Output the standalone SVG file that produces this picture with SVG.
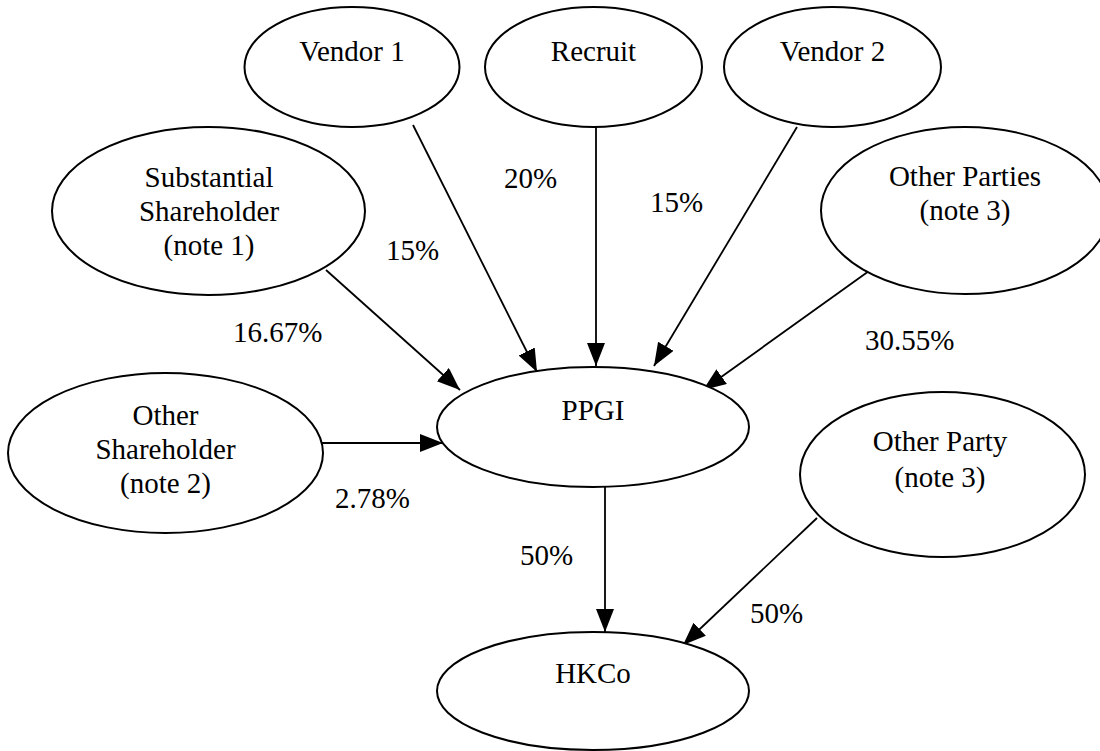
<svg xmlns="http://www.w3.org/2000/svg" width="1100" height="751" viewBox="0 0 1100 751">
<defs>
<marker id="arr" markerUnits="userSpaceOnUse" markerWidth="24" markerHeight="20" refX="23" refY="9" orient="auto">
<path d="M0,0 L23,9 L0,18 z" fill="#000"/>
</marker>
<style>
ellipse{fill:#fff;stroke:#000;stroke-width:2}
text{font-family:"Liberation Serif","Times New Roman",serif;font-size:29px;fill:#000}
.c{text-anchor:middle}
.e{stroke:#000;stroke-width:1.8;fill:none;marker-end:url(#arr)}
</style>
</defs>
<rect width="1100" height="751" fill="#fff"/>
<g id="connectors">
<line class="e" x1="413" y1="125" x2="537" y2="372"/>
<line class="e" x1="596" y1="127" x2="596" y2="366"/>
<line class="e" x1="797" y1="127" x2="654" y2="366"/>
<line class="e" x1="326" y1="270" x2="460" y2="390"/>
<line class="e" x1="869" y1="271" x2="703" y2="390"/>
<line class="e" x1="317" y1="443" x2="443" y2="443"/>
<line class="e" x1="605" y1="487" x2="605" y2="632"/>
<line class="e" x1="817" y1="518" x2="683" y2="645"/>
</g>
<g id="vendor1"><ellipse cx="352" cy="67" rx="107.5" ry="60"/><text class="c" x="352" y="61">Vendor 1</text></g>
<g id="recruit"><ellipse cx="593.5" cy="67" rx="108.5" ry="60"/><text class="c" x="593.5" y="61">Recruit</text></g>
<g id="vendor2"><ellipse cx="832.5" cy="67" rx="108.5" ry="60"/><text class="c" x="832.5" y="61">Vendor 2</text></g>
<g id="substantial"><ellipse cx="208.5" cy="211" rx="156.5" ry="84"/><text class="c" x="209" y="187">Substantial</text><text class="c" x="209" y="221">Shareholder</text><text class="c" x="209" y="255">(note 1)</text></g>
<g id="otherparties"><ellipse cx="965" cy="210.5" rx="144" ry="83.5"/><text class="c" x="965" y="186">Other Parties</text><text class="c" x="965" y="220">(note 3)</text></g>
<g id="othershareholder"><ellipse cx="165.5" cy="453" rx="157.5" ry="80"/><text class="c" x="165.5" y="425">Other</text><text class="c" x="165.5" y="459">Shareholder</text><text class="c" x="165.5" y="493">(note 2)</text></g>
<g id="ppgi"><ellipse cx="593" cy="427" rx="156" ry="60"/><text class="c" x="593" y="420">PPGI</text></g>
<g id="otherparty"><ellipse cx="942.5" cy="474.5" rx="142.5" ry="82.5"/><text class="c" x="940" y="451">Other Party</text><text class="c" x="940" y="487">(note 3)</text></g>
<g id="hkco"><ellipse cx="593" cy="691" rx="156" ry="59"/><text class="c" x="593" y="683">HKCo</text></g>
<g id="labels">
<text x="386" y="260">15%</text>
<text x="504" y="188">20%</text>
<text x="650" y="212">15%</text>
<text x="865" y="350">30.55%</text>
<text x="233" y="342">16.67%</text>
<text x="335" y="508">2.78%</text>
<text x="520" y="565">50%</text>
<text x="750" y="623">50%</text>
</g>
</svg>
